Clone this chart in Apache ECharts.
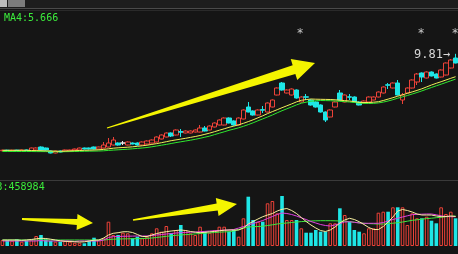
<!DOCTYPE html>
<html><head><meta charset="utf-8">
<script src="https://cdn.jsdelivr.net/npm/echarts@6/dist/echarts.min.js"></script>
<style>html,body{margin:0;padding:0;background:#151515;overflow:hidden}#c{width:458px;height:254px;}</style>
</head><body><div id="c"></div><script>
const days = [1,2,3,4,5,6,7,8,9,10,11,12,13,14,15,16,17,18,19,20,21,22,23,24,25,26,27,28,29,30,31,32,33,34,35,36,37,38,39,40,41,42,43,44,45,46,47,48,49,50,51,52,53,54,55,56,57,58,59,60,61,62,63,64,65,66,67,68,69,70,71,72,73,74,75,76,77,78,79,80,81,82,83,84,85,86,87,88,89,90,91,92,93,94,95];
// [open, close, low, high]
const candles = [
[4.96,4.99,4.94,5.01],[4.99,4.97,4.95,5.01],[4.97,4.99,4.95,5.01],[4.99,4.98,4.96,5.01],[4.98,5.0,4.96,5.02],
[5.0,4.98,4.96,5.02],[4.95,5.1,4.93,5.12],[5.0,5.1,4.98,5.13],[5.15,5.0,4.98,5.18],[5.1,5.0,4.97,5.12],
[4.95,4.85,4.83,4.97],[4.85,4.95,4.83,4.97],[4.95,4.9,4.88,4.97],[4.95,5.0,4.93,5.02],[4.95,5.0,4.93,5.02],
[5.0,5.05,4.98,5.07],[5.0,5.1,4.98,5.12],[5.1,5.05,5.03,5.12],[5.1,5.05,5.03,5.12],[5.15,5.05,5.03,5.17],
[5.05,5.15,5.03,5.17],[5.1,5.25,5.08,5.4],[5.15,5.35,5.13,5.6],[5.25,5.5,5.23,5.65],[5.35,5.25,5.22,5.38],
[5.35,5.35,5.25,5.45],[5.25,5.4,5.23,5.43],[5.35,5.3,5.28,5.38],[5.35,5.25,5.22,5.38],[5.25,5.4,5.23,5.43],
[5.3,5.45,5.28,5.48],[5.35,5.5,5.33,5.53],[5.4,5.65,5.38,5.68],[5.55,5.75,5.53,5.78],[5.65,5.85,5.63,5.88],
[5.85,5.7,5.65,5.88],[5.75,6.0,5.73,6.03],[5.92,5.89,5.65,6.05],[5.85,5.95,5.83,5.98],[5.85,5.95,5.83,5.98],
[5.9,6.0,5.88,6.03],[5.9,6.1,5.88,6.25],[6.1,5.95,5.93,6.2],[6.0,6.2,5.98,6.23],[6.15,6.35,6.13,6.38],
[6.25,6.5,6.23,6.53],[6.25,6.6,6.23,6.63],[6.6,6.35,6.33,6.63],[6.45,6.25,6.22,6.48],[6.25,6.6,6.23,6.63],
[6.55,7.0,6.53,7.03],[7.15,6.9,6.88,7.4],[6.95,6.75,6.72,6.98],[6.75,7.0,6.73,7.03],[7.02,6.99,6.85,7.2],
[6.9,7.35,6.88,7.38],[7.15,7.5,7.13,7.53],[7.75,8.1,7.73,8.13],[8.35,8.0,7.97,8.4],[7.85,8.0,7.83,8.03],
[7.75,8.05,7.73,8.08],[8.0,7.6,7.57,8.03],[7.4,7.65,7.38,7.68],[7.66,7.64,7.5,7.8],[7.5,7.25,7.22,7.53],
[7.4,7.15,7.12,7.43],[7.25,6.9,6.87,7.28],[6.9,6.5,6.4,6.93],[6.65,7.0,6.63,7.03],[7.15,7.4,7.13,7.43],
[7.85,7.5,7.47,8.0],[7.4,7.75,7.38,7.78],[7.66,7.64,7.5,7.8],[7.65,7.4,7.38,7.68],[7.4,7.25,7.23,7.43],
[7.35,7.45,7.33,7.48],[7.4,7.65,7.38,7.68],[7.5,7.65,7.48,7.68],[7.65,7.9,7.63,7.93],[7.85,8.15,7.83,8.18],
[8.26,8.24,8.05,8.35],[8.1,8.35,8.08,8.38],[8.35,7.75,7.73,8.5],[7.5,7.75,7.3,7.85],[7.85,8.1,7.83,8.13],
[8.1,8.5,8.08,8.53],[8.4,8.8,8.25,8.85],[8.85,8.65,8.4,8.88],[8.6,8.9,8.58,8.93],[8.9,8.7,8.68,8.93],
[8.8,8.6,8.58,8.83],[8.65,9.0,8.63,9.03],[8.75,9.35,8.73,9.38],[9.1,9.5,9.08,9.55],[9.6,9.35,9.33,9.81]
];
const maYellow = [4.985,4.985,4.985,4.985,4.985,4.985,4.975,4.97,4.965,4.955,
4.95,4.94,4.935,4.945,4.955,4.965,4.975,4.985,4.99,5.0,
5.01,5.03,5.06,5.09,5.11,5.125,5.14,5.16,5.185,5.21,
5.24,5.28,5.32,5.365,5.415,5.465,5.505,5.545,5.585,5.63,
5.675,5.725,5.785,5.845,5.915,5.99,6.06,6.135,6.195,6.26,
6.335,6.42,6.51,6.61,6.71,6.82,6.92,7.015,7.115,7.21,
7.305,7.405,7.485,7.52,7.55,7.54,7.535,7.53,7.525,7.51,
7.49,7.47,7.45,7.42,7.38,7.375,7.375,7.39,7.415,7.475,
7.545,7.615,7.69,7.76,7.835,7.905,7.98,8.06,8.155,8.25,
8.335,8.415,8.5,8.585,8.665];
const maGreen = [4.925,4.925,4.925,4.925,4.925,4.925,4.925,4.92,4.92,4.918,
4.915,4.912,4.91,4.915,4.92,4.925,4.93,4.935,4.94,4.945,
4.95,4.96,4.98,4.995,5.01,5.025,5.04,5.06,5.08,5.1,
5.125,5.16,5.2,5.24,5.28,5.325,5.37,5.41,5.45,5.49,
5.535,5.585,5.64,5.695,5.77,5.84,5.91,5.985,6.045,6.11,
6.185,6.27,6.36,6.46,6.555,6.65,6.75,6.86,6.965,7.06,
7.155,7.255,7.34,7.39,7.44,7.46,7.475,7.47,7.465,7.45,
7.435,7.42,7.4,7.375,7.345,7.335,7.325,7.335,7.355,7.395,
7.45,7.515,7.59,7.66,7.725,7.8,7.875,7.955,8.04,8.125,
8.21,8.29,8.375,8.46,8.545];
const volume = [60000,60000,53000,67000,43000,53000,60000,100000,110000,67000,
50000,43000,43000,50000,43000,33000,33000,27000,53000,83000,
60000,77000,243000,110000,110000,133000,127000,77000,93000,77000,
93000,127000,177000,143000,200000,127000,160000,210000,160000,127000,
110000,193000,143000,133000,160000,193000,193000,143000,
160000,93000,277000,493000,260000,243000,243000,427000,450000,327000,
500000,260000,260000,260000,177000,133000,133000,160000,143000,143000,
227000,227000,377000,310000,243000,160000,143000,127000,177000,177000,
333000,343000,343000,387000,387000,387000,210000,327000,277000,277000,
293000,253000,227000,387000,320000,343000,277000];
const volMa5 = [60000,60000,60000,60000,57000,60000,65000,72000,77000,75000,
68000,60000,52000,47000,45000,42000,40000,42000,50000,58000,
60000,80000,110000,127000,133000,142000,143000,135000,115000,95000,
95000,110000,125000,135000,143000,150000,155000,160000,155000,145000,
138000,133000,137000,142000,145000,152000,158000,160000,160000,160000,
180000,220000,245000,270000,293000,310000,325000,350000,367000,375000,
355000,325000,285000,245000,210000,180000,155000,145000,160000,190000,
230000,260000,277000,265000,243000,215000,185000,165000,165000,195000,
240000,290000,350000,365000,355000,340000,320000,310000,310000,310000,
300000,293000,295000,300000,295000];
const volMa10 = [50000,50000,50000,50000,50000,50000,50000,50000,55000,50000,
50000,50000,50000,50000,50000,45000,50000,50000,50000,50000,
50000,60000,85000,93000,95000,97000,98000,99000,100000,100000,
100000,105000,110000,115000,120000,125000,130000,133000,135000,138000,
140000,143000,146000,150000,153000,156000,158000,160000,165000,180000,
195000,210000,225000,240000,255000,275000,295000,315000,330000,325000,
315000,300000,282000,265000,245000,230000,215000,205000,200000,210000,
225000,240000,243000,237000,230000,227000,227000,227000,227000,235000,
250000,265000,277000,290000,302000,313000,317000,318000,320000,320000,
312000,302000,295000,293000,293000];
const volMa20 = [60000,60000,60000,60000,60000,60000,60000,60000,60000,60000,
60000,60000,60000,60000,60000,60000,60000,60000,60000,60000,
60000,60000,65000,68000,70000,71000,72000,73000,74000,75000,
77000,80000,85000,91000,97000,102000,107000,110000,114000,117000,
121000,125000,128000,131000,135000,138000,141000,143000,150000,165000,
180000,190000,193000,195000,198000,205000,212000,220000,226000,230000,
235000,240000,244000,247000,250000,252000,253000,253000,253000,252000,
250000,247000,243000,238000,232000,227000,224000,222000,220000,220000,
224000,228000,233000,240000,248000,257000,262000,268000,274000,278000,
283000,288000,293000,297000,300000];
const maLabel = 'MA4:5.666';
const volLabel = '3:458984';
const highLabel = '9.81';

const BG = '#151515', RED = '#ec4238', CYAN = '#1ee6e6';
const volData = volume.map((v, i) => {
  const up = candles[i][1] >= candles[i][0];
  return { value: v, itemStyle: up ? { color: BG, borderColor: RED, borderWidth: 1 } : { color: CYAN } };
});
const mono = '"DejaVu Sans Mono", monospace';
const chart = echarts.init(document.getElementById('c'), null, { renderer: 'canvas' });
function arrow(pts) {
  return { type: 'polygon', shape: { points: pts }, style: { fill: '#f5f500' }, z: 50 };
}
chart.setOption({
  backgroundColor: BG,
  animation: false,
  grid: [
    { left: 0, width: 458, top: 10, height: 170 },
    { left: 0, width: 458, top: 182, height: 64 }
  ],
  xAxis: [
    { type: 'category', data: days, gridIndex: 0, show: false, boundaryGap: true },
    { type: 'category', data: days, gridIndex: 1, show: false, boundaryGap: true }
  ],
  yAxis: [
    { type: 'value', gridIndex: 0, min: 3.5, max: 12, show: false, splitLine: { show: false } },
    { type: 'value', gridIndex: 1, min: 0, max: 640000, show: false, splitLine: { show: false } }
  ],
  series: [
    { type: 'candlestick', data: candles, xAxisIndex: 0, yAxisIndex: 0, barWidth: 5,
      itemStyle: { color: BG, color0: CYAN, borderColor: RED, borderColor0: CYAN, borderColorDoji: '#e8e8e8', borderWidth: 1 }, z: 3 },
    { type: 'line', data: maGreen, xAxisIndex: 0, yAxisIndex: 0, symbol: 'none', lineStyle: { color: '#2ee82e', width: 1 }, z: 4 },
    { type: 'line', data: maYellow, xAxisIndex: 0, yAxisIndex: 0, symbol: 'none', lineStyle: { color: '#f0f05a', width: 1 }, z: 4 },
    { type: 'bar', data: volData, xAxisIndex: 1, yAxisIndex: 1, barWidth: 3.6, z: 3 },
    { type: 'line', data: volMa20, xAxisIndex: 1, yAxisIndex: 1, symbol: 'none', lineStyle: { color: '#3ee83e', width: 1 }, z: 4 },
    { type: 'line', data: volMa10, xAxisIndex: 1, yAxisIndex: 1, symbol: 'none', lineStyle: { color: '#e040e0', width: 1 }, z: 4 },
    { type: 'line', data: volMa5, xAxisIndex: 1, yAxisIndex: 1, symbol: 'none', lineStyle: { color: '#f8f0a0', width: 1 }, z: 4 }
  ],
  graphic: [
    { type: 'rect', shape: { x: 0, y: 0, width: 458, height: 8 }, style: { fill: '#1d1d1d' }, z: 40 },
    { type: 'rect', shape: { x: 0, y: 0, width: 7, height: 7 }, style: { fill: '#bdbdbd' }, z: 41 },
    { type: 'rect', shape: { x: 8, y: 0, width: 17, height: 7 }, style: { fill: '#7c7c7c' }, z: 41 },
    { type: 'line', shape: { x1: 0, y1: 8.5, x2: 458, y2: 8.5 }, style: { stroke: '#4a4a4a', lineWidth: 1 }, z: 41 },
    { type: 'line', shape: { x1: 0, y1: 10.5, x2: 458, y2: 10.5 }, style: { stroke: '#2a2a2a', lineWidth: 1 }, z: 41 },
    { type: 'line', shape: { x1: 0, y1: 180.5, x2: 458, y2: 180.5 }, style: { stroke: '#3a3a3a', lineWidth: 1 }, z: 41 },
    { type: 'text', style: { text: maLabel, x: 4, y: 18.5, fill: '#3cec3c', font: '10px ' + mono, verticalAlign: 'middle' }, z: 45 },
    { type: 'text', style: { text: volLabel, x: -3.5, y: 187, fill: '#3cec3c', font: '10px ' + mono, verticalAlign: 'middle' }, z: 45 },
    { type: 'text', style: { text: highLabel + '\u2192', x: 414, y: 55, fill: '#d8d8d8', font: '12px ' + mono, verticalAlign: 'middle' }, z: 45 },
    { type: 'text', style: { text: '*', x: 300, y: 34, fill: '#c8c8c8', font: '12px ' + mono, align: 'center', verticalAlign: 'middle' }, z: 45 },
    { type: 'text', style: { text: '*', x: 421, y: 34, fill: '#c8c8c8', font: '12px ' + mono, align: 'center', verticalAlign: 'middle' }, z: 45 },
    { type: 'text', style: { text: '*', x: 455, y: 34, fill: '#c8c8c8', font: '12px ' + mono, align: 'center', verticalAlign: 'middle' }, z: 45 },
    arrow([[106.85,127.52],[292.66,65.3],[290.72,59.1],[315,63],[297.28,80.1],[295.34,73.9],[107.15,128.48]]),
    arrow([[22.06,218],[77.19,219.1],[77.47,214.1],[93,223],[76.57,230.1],[76.85,225.1],[21.94,220]]),
    arrow([[132.89,219.31],[216.67,203.58],[215.83,198.1],[237,204],[218.57,215.94],[217.73,210.5],[133.11,220.69]])
  ]
});
</script></body></html>
